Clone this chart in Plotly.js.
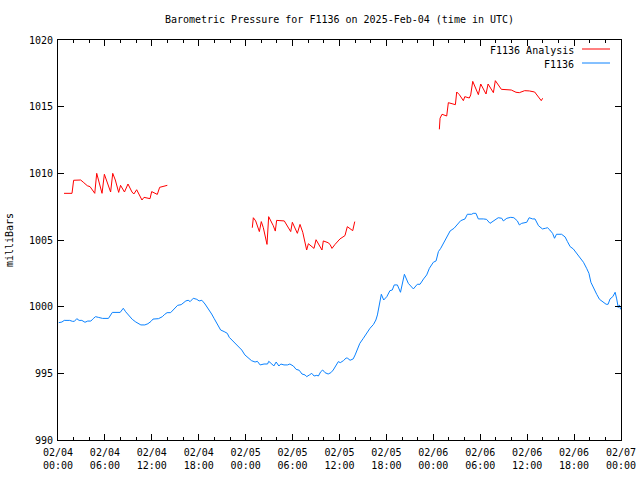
<!DOCTYPE html>
<html>
<head>
<meta charset="utf-8">
<script src="https://cdn.plot.ly/plotly-3.0.1.min.js"></script>
<style>html,body{margin:0;padding:0;background:#fff;}#chart{width:640px;height:480px;}</style>
</head>
<body>
<div id="chart"></div>
<script>
// Hours since 2025-02-04 00:00 UTC
const sensorHours = [0.1,0.5,0.8,1.5,1.85,2.1,2.4,2.7,3.05,3.45,3.8,4.2,4.5,4.8,5.15,5.7,6.45,6.7,6.95,7.95,8.15,8.35,8.65,9.1,9.5,9.95,10.3,10.6,11.1,11.5,11.9,12.15,12.85,13.35,13.6,13.95,14.4,14.7,15.05,15.3,15.75,16.05,16.35,16.65,16.9,17.3,17.75,18.05,18.4,18.8,19.2,19.65,19.95,20.3,20.55,20.8,21.25,21.65,21.9,22.4,22.95,23.5,23.9,24.35,24.75,25.2,25.5,25.85,26.35,26.8,26.95,27.35,27.6,27.9,28.05,28.25,28.5,28.9,29.35,29.65,30.1,30.45,30.85,31.2,31.6,31.8,32.15,32.45,32.75,33.1,33.3,33.6,33.85,34.15,34.55,34.9,35.2,35.55,35.85,36.1,36.5,36.85,37.05,37.35,37.75,38.0,38.3,38.6,39.05,39.5,39.9,40.35,40.65,40.85,41.05,41.35,41.65,42.05,42.45,42.75,43.0,43.4,43.8,44.0,44.3,44.8,45.1,45.45,45.95,46.3,46.75,47.15,47.5,48.0,48.35,48.65,48.95,49.3,49.7,50.15,50.65,51.05,51.5,52.05,52.35,52.9,53.1,53.45,53.75,54.4,54.8,55.25,55.75,56.3,56.75,56.95,57.4,57.9,58.3,58.75,59.0,59.3,59.95,60.25,60.7,61.0,61.45,61.95,62.35,62.6,62.9,63.25,63.5,63.75,64.4,64.85,65.15,65.5,65.9,66.35,66.75,67.2,67.6,67.9,68.15,68.45,68.9,69.25,69.65,70.1,70.35,70.6,70.95,71.25,71.45,71.65,71.8,71.95];
const sensorPressure = [998.8,998.85,998.97,998.97,998.9,998.9,999.1,998.97,998.97,998.83,998.92,998.92,999.1,999.25,999.2,999.12,999.12,999.4,999.57,999.57,999.75,999.88,999.62,999.3,999.05,998.85,998.72,998.63,998.63,998.72,998.9,999.07,999.1,999.25,999.4,999.55,999.55,999.75,999.95,1000.1,1000.15,1000.3,1000.43,1000.48,1000.38,1000.63,1000.55,1000.43,1000.48,1000.2,999.88,999.45,999.13,998.8,998.5,998.25,998.13,998.0,997.7,997.38,997.07,996.75,996.38,996.13,995.95,995.85,995.9,995.63,995.7,995.7,995.9,995.7,995.55,995.85,995.7,995.55,995.7,995.63,995.63,995.7,995.55,995.3,995.23,994.95,994.88,994.75,994.88,995.0,994.8,994.85,994.8,995.12,995.25,995.05,994.95,995.05,995.25,995.55,995.88,995.8,995.95,996.15,996.13,995.98,996.08,996.38,996.88,997.25,997.63,998.08,998.38,998.67,999.0,999.38,1000.13,1000.93,1000.5,1000.75,1001.2,1001.25,1001.63,1001.63,1001.08,1001.75,1002.43,1001.75,1001.58,1001.33,1001.68,1001.68,1002.08,1002.38,1002.88,1003.33,1003.43,1004.13,1004.38,1004.75,1005.18,1005.68,1005.88,1006.13,1006.45,1006.58,1006.93,1006.93,1007.0,1007.0,1006.58,1006.58,1006.55,1006.25,1006.43,1006.67,1006.63,1006.43,1006.63,1006.7,1006.67,1006.43,1006.13,1006.25,1006.33,1006.67,1006.58,1006.58,1006.07,1005.83,1005.88,1005.92,1005.75,1005.5,1005.13,1005.43,1005.43,1005.23,1004.88,1004.5,1004.33,1004.0,1003.67,1003.33,1002.88,1002.5,1001.83,1001.42,1000.92,1000.55,1000.38,1000.18,1000.18,1000.58,1000.75,1001.08,1000.58,999.93,1000.13,999.8];

// Analysis: three runs separated by null gaps
const analysisHours = [0.77,1.79,2.0,2.9,3.3,3.75,4.1,4.7,4.95,5.2,5.63,5.93,6.22,6.73,7.0,7.33,7.76,8.0,8.5,8.95,9.46,9.7,10.06,10.74,11.0,11.25,11.77,11.98,12.45,12.7,13.0,13.47,13.98,
  null,
  24.85,24.98,25.28,25.75,26.0,26.26,26.73,26.94,27.53,27.79,27.96,28.39,28.94,29.76,29.97,30.61,30.95,31.3,31.8,32.02,32.57,32.74,33.0,33.3,33.76,33.93,34.53,34.79,35.04,35.43,36.06,36.7,37.0,37.69,37.95,
  null,
  48.77,48.86,49.11,49.71,49.92,50.39,50.82,50.99,51.33,51.84,52.02,52.6,52.78,53.04,53.76,54.06,54.74,55.0,55.68,55.93,56.7,57.97,58.57,59.0,59.68,60.27,60.96,61.8,61.98];
const analysisPressure = [1008.5,1008.5,1009.48,1009.5,1009.3,1009.07,1009.0,1008.5,1010.0,1009.5,1008.5,1009.93,1009.5,1008.6,1010.0,1009.5,1008.57,1009.1,1008.6,1009.2,1008.6,1008.45,1008.77,1008.0,1008.2,1008.15,1008.1,1008.63,1008.5,1008.42,1008.95,1009.0,1009.1,
  null,
  1005.92,1006.67,1006.43,1005.63,1006.38,1005.92,1004.67,1006.75,1006.07,1005.67,1006.47,1006.47,1006.43,1005.63,1006.33,1005.5,1006.17,1005.58,1004.25,1004.72,1004.5,1004.37,1005.02,1004.67,1004.25,1004.93,1004.8,1004.67,1004.37,1004.67,1005.08,1005.33,1006.0,1005.7,1006.38,
  null,
  1013.3,1014.13,1014.43,1014.3,1015.3,1015.25,1015.15,1016.1,1015.9,1015.45,1015.75,1015.65,1015.88,1016.9,1015.9,1016.7,1015.95,1016.7,1016.05,1016.95,1016.3,1016.25,1016.08,1016.05,1016.2,1016.18,1016.1,1015.45,1015.63];

const seriesNames = ['F1136 Analysis', 'F1136'];
const titleText = 'Barometric Pressure for F1136 on 2025-Feb-04 (time in UTC)';
const yTitle = 'milliBars';

const baseMs = Date.UTC(2025, 1, 4);
function toTime(h) {
  if (h === null) return null;
  return new Date(baseMs + Math.round(h * 3600e3)).toISOString().slice(0, 19).replace('T', ' ');
}

const RED = '#ff0000';
const BLUE = 'rgb(10,130,255)';
const FONT = 'DejaVu Sans Mono';

const traces = [
  {x: analysisHours.map(toTime), y: analysisPressure, type: 'scatter', mode: 'lines',
   name: seriesNames[0], connectgaps: false, line: {color: RED, width: 1}},
  {x: sensorHours.map(toTime), y: sensorPressure, type: 'scatter', mode: 'lines',
   name: seriesNames[1], line: {color: BLUE, width: 1}}
];

const L = 58, R = 621, T = 40, B = 440;
const pw = R - L, ph = B - T;
function px2x(p) { return (p - L) / pw; }
function px2y(p) { return (B - p) / ph; }

const legendRows = [50, 64];
const legendColors = [RED, BLUE];

const layout = {
  width: 640, height: 480,
  margin: {l: L, r: 640 - R, t: T, b: 480 - B, pad: 0},
  paper_bgcolor: '#fff', plot_bgcolor: '#fff',
  font: {family: FONT, size: 10, color: '#000'},
  showlegend: false,
  title: {text: titleText, font: {family: FONT, size: 10, color: '#000'},
          x: (L + R) / 2 / 640, xref: 'container', xanchor: 'center',
          y: 1 - 19 / 480, yref: 'container', yanchor: 'middle'},
  xaxis: {
    type: 'date', range: ['2025-02-04 00:00:00', '2025-02-07 00:00:00'],
    tick0: '2025-02-04 00:00:00', dtick: 6 * 3600e3, tickformat: '%m/%d<br>%H:%M',
    ticks: 'inside', ticklen: 6, tickwidth: 1, tickcolor: '#000', ticklabelstandoff: 3,
    minor: {dtick: 2 * 3600e3, tick0: '2025-02-04 00:00:00', ticks: 'inside', ticklen: 3, tickcolor: '#000', showgrid: false},
    showline: true, linecolor: '#000', linewidth: 1, mirror: 'allticks',
    showgrid: false, zeroline: false, fixedrange: true,
    tickfont: {family: FONT, size: 10, color: '#000'}
  },
  yaxis: {
    range: [990, 1020], tick0: 990, dtick: 5,
    ticks: 'inside', ticklen: 6, tickwidth: 1, tickcolor: '#000', ticklabelstandoff: 2,
    showline: true, linecolor: '#000', linewidth: 1, mirror: 'allticks',
    showgrid: false, zeroline: false, fixedrange: true,
    tickfont: {family: FONT, size: 10, color: '#000'},
    title: {text: yTitle, font: {family: FONT, size: 10, color: '#000'}, standoff: 13}
  },
  annotations: seriesNames.map((n, i) => ({
    text: n, xref: 'paper', yref: 'paper', x: px2x(576), y: px2y(legendRows[i]),
    xanchor: 'right', yanchor: 'middle', showarrow: false,
    font: {family: FONT, size: 10, color: '#000'}
  })),
  shapes: legendColors.map((c, i) => ({
    type: 'line', xref: 'paper', yref: 'paper',
    x0: px2x(582), x1: px2x(610), y0: px2y(legendRows[i] - 1), y1: px2y(legendRows[i] - 1),
    line: {color: c, width: 1}
  }))
};

Plotly.newPlot('chart', traces, layout, {displayModeBar: false, staticPlot: true});
</script>
</body>
</html>
